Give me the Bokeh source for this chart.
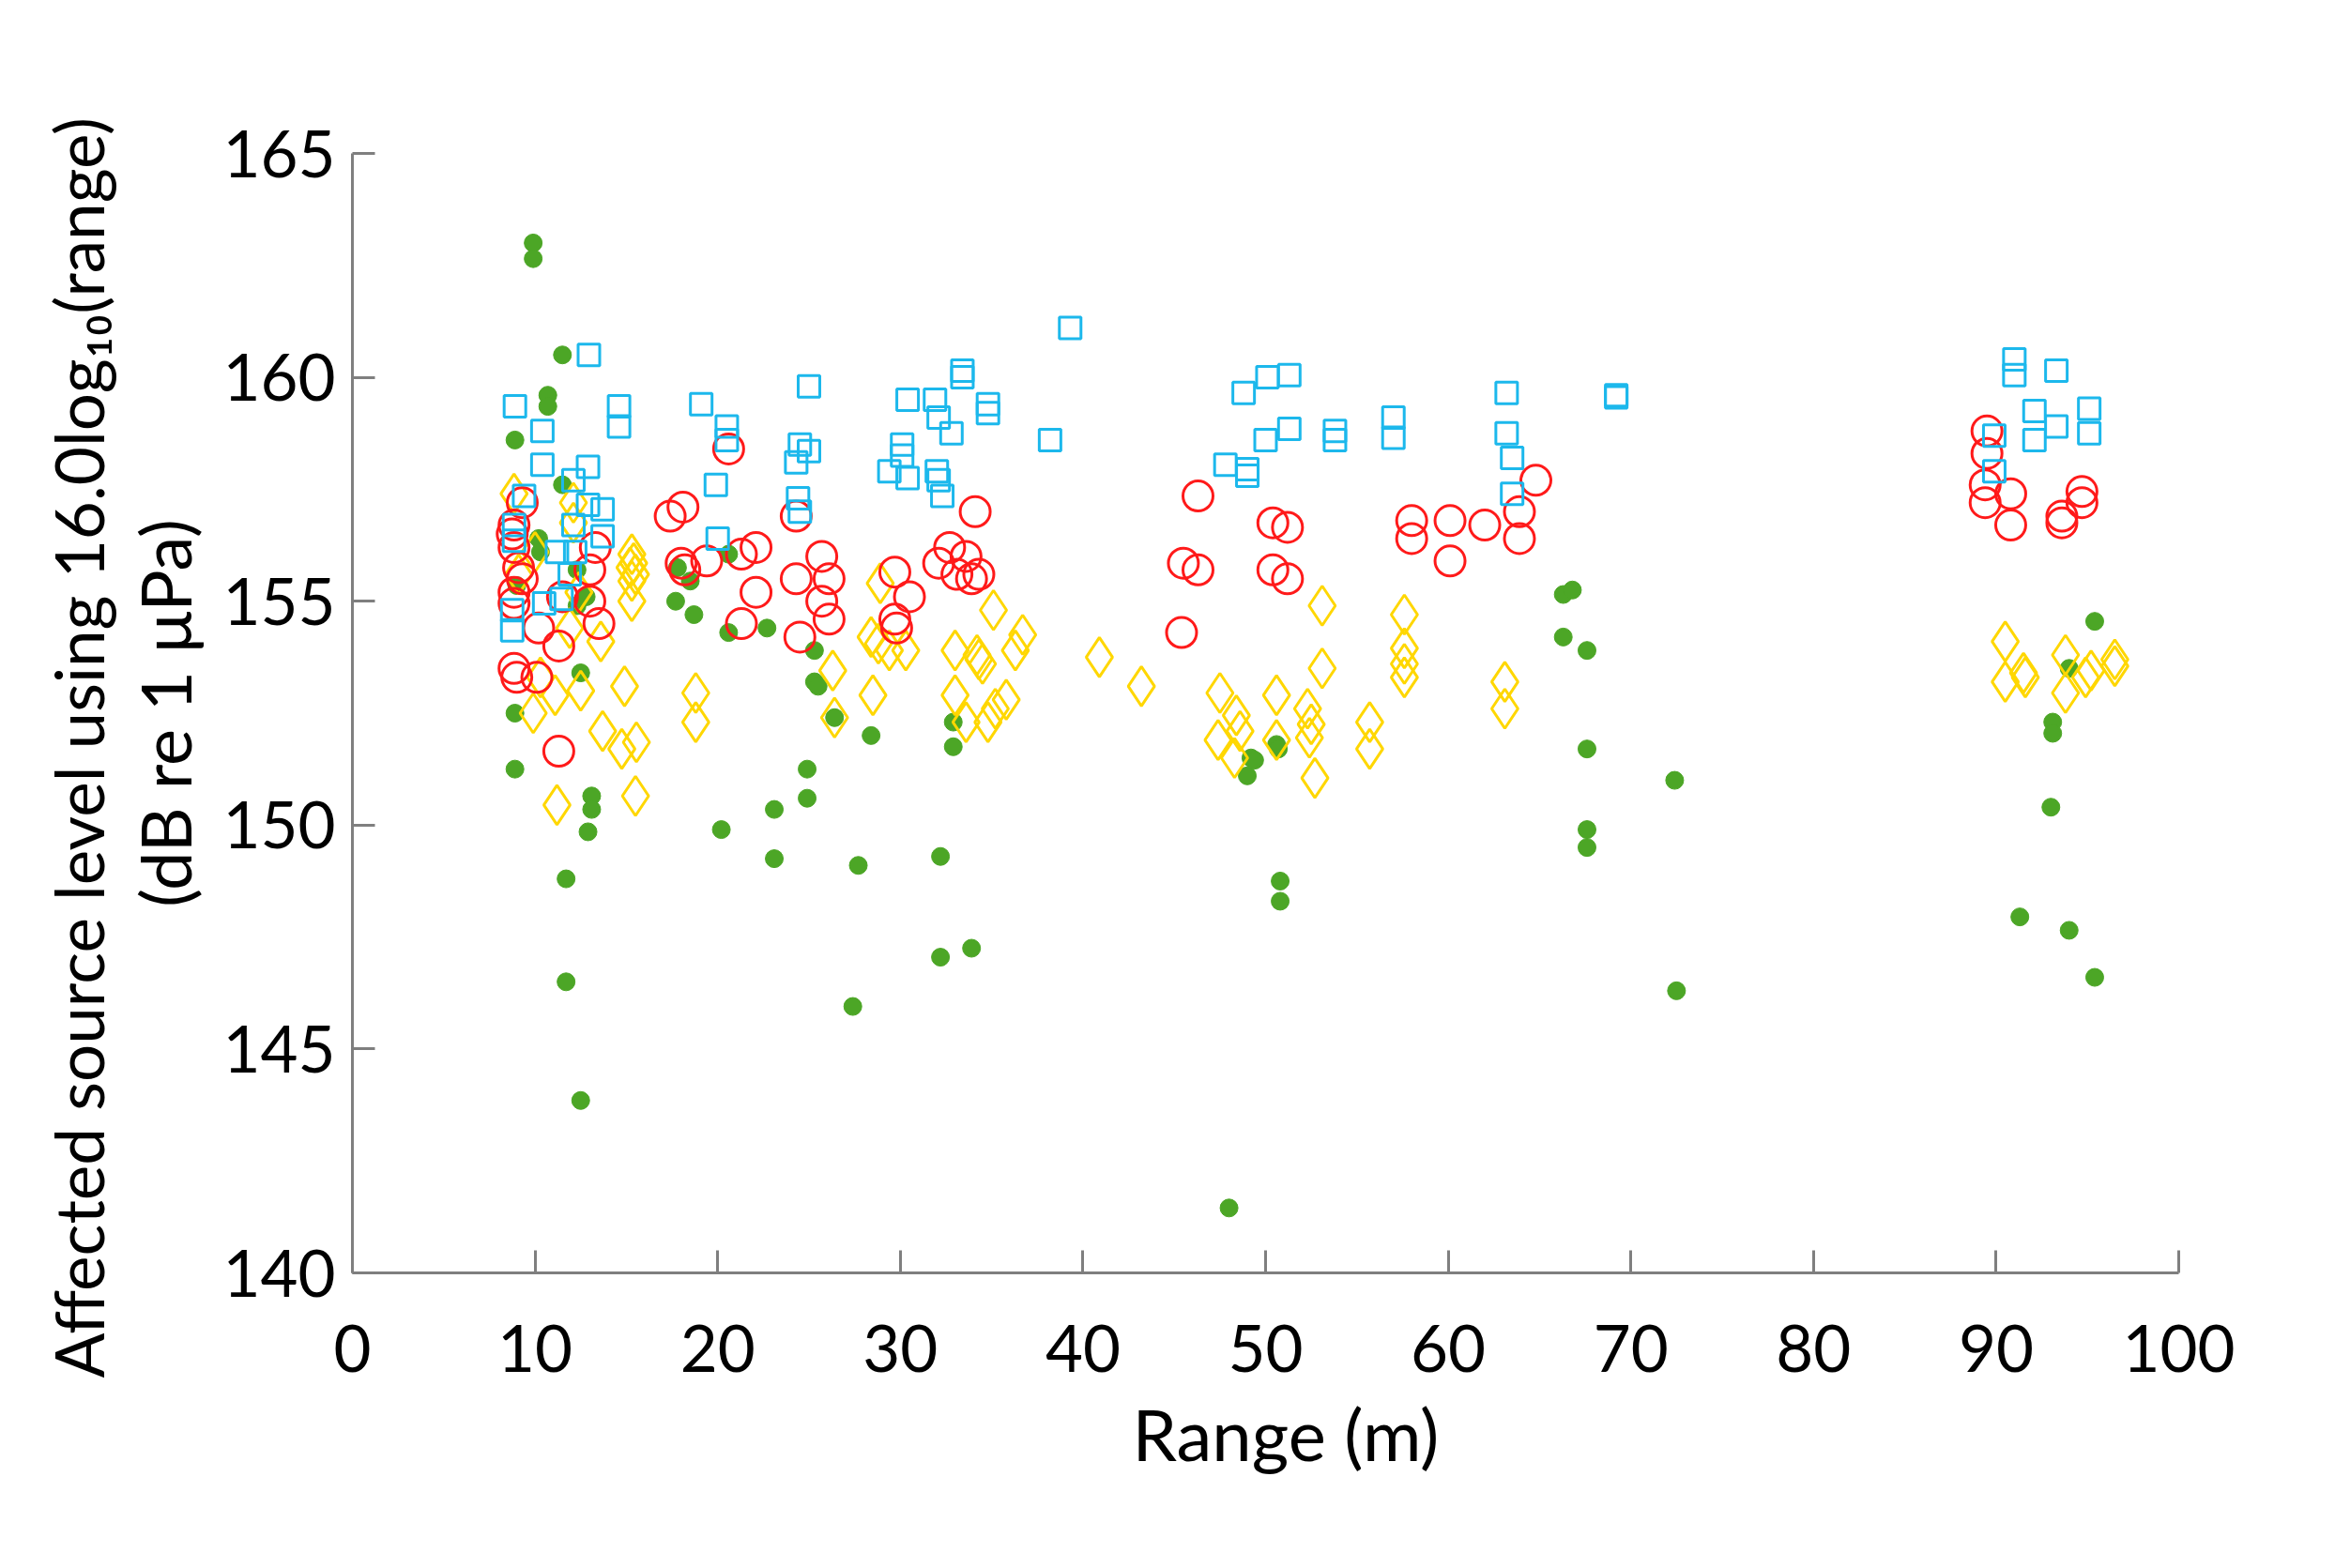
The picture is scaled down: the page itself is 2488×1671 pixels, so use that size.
from bokeh.plotting import figure
from bokeh.models import Range1d, FixedTicker, Title
from bokeh.embed import file_html
from bokeh.resources import INLINE

# ---- data (x = range in m, y = affected source level in dB) ----
x_ticks = [0, 10, 20, 30, 40, 50, 60, 70, 80, 90, 100]
y_ticks = [140, 145, 150, 155, 160, 165]

green_pts = [
    (9.9, 163.0), (9.9, 162.65), (8.9, 158.6), (11.5, 160.5), (10.7, 159.6), (10.7, 159.35),
    (11.5, 157.6), (10.2, 156.4), (10.3, 156.1), (12.3, 155.7), (9.0, 155.35), (12.8, 155.1),
    (12.3, 154.9), (8.9, 152.5), (8.9, 151.25), (12.5, 153.4), (13.1, 150.65), (13.1, 150.35),
    (12.9, 149.85), (11.7, 148.8), (11.7, 146.5), (12.5, 143.85), (17.7, 155.0), (17.8, 155.75),
    (18.5, 155.45), (18.7, 154.7), (20.6, 156.05), (20.6, 154.3), (20.2, 149.9), (22.7, 154.4),
    (23.1, 150.35), (23.1, 149.25), (25.3, 153.9), (25.3, 153.2), (25.5, 153.1), (24.9, 151.25),
    (24.9, 150.6), (26.4, 152.4), (28.4, 152.0), (27.7, 149.1), (27.4, 145.95), (32.9, 152.3),
    (32.9, 151.75), (32.2, 149.3), (32.2, 147.05), (33.9, 147.25), (49.0, 151.1), (49.2, 151.5),
    (49.4, 151.45), (50.6, 151.8), (50.7, 151.7), (50.8, 148.75), (50.8, 148.3), (48.0, 141.45),
    (66.3, 154.2), (66.3, 155.15), (66.8, 155.25), (67.6, 153.9), (67.6, 151.7), (67.6, 149.9),
    (67.6, 149.5), (72.4, 151.0), (72.5, 146.3), (91.3, 147.95), (93.1, 152.3), (93.1, 152.05),
    (93.0, 150.4), (94.0, 147.65), (94.0, 153.5), (95.4, 154.55), (95.4, 146.6),
]

blue_pts = [
    (12.95, 160.5), (8.9, 159.35), (14.6, 159.35), (14.6, 158.9), (10.4, 158.8), (10.4, 158.05),
    (12.9, 158.0), (12.1, 157.7), (9.4, 157.35), (12.9, 157.15), (13.7, 157.05), (12.1, 156.7),
    (13.7, 156.45), (8.85, 156.7), (8.85, 156.35), (11.2, 156.1), (11.9, 155.6), (12.2, 156.1),
    (10.5, 154.95), (11.45, 155.05), (8.75, 154.8), (8.75, 154.35),
    (19.1, 159.4), (20.5, 158.9), (20.5, 158.6), (19.9, 157.6), (20.0, 156.4),
    (25.0, 159.8), (24.5, 158.5), (25.0, 158.35), (24.3, 158.1), (24.4, 157.3), (24.5, 157.0),
    (30.4, 159.5), (30.1, 158.5), (30.1, 158.25), (29.4, 157.9), (30.4, 157.75), (31.9, 159.5),
    (32.1, 159.1), (32.0, 157.9), (32.1, 157.7), (32.3, 157.35), (32.8, 158.75), (33.4, 160.15),
    (33.4, 160.0), (34.8, 159.4), (34.8, 159.2), (39.3, 161.1), (38.2, 158.6),
    (47.8, 158.05), (48.8, 159.65), (49.0, 157.95), (49.0, 157.8), (50.0, 158.6), (50.1, 160.0),
    (51.3, 160.05), (51.3, 158.85), (53.8, 158.8), (53.8, 158.6), (57.0, 159.1), (57.0, 158.65),
    (63.2, 159.65), (63.2, 158.75), (63.5, 158.2), (63.5, 157.4), (69.2, 159.6), (69.2, 159.55),
    (91.0, 160.4), (91.0, 160.05), (89.9, 158.7), (89.9, 157.9), (92.1, 159.25), (92.1, 158.6),
    (93.3, 160.15), (93.3, 158.9), (95.1, 159.3), (95.1, 158.75),
]

red_pts = [
    (9.3, 157.2), (8.85, 156.7), (8.75, 156.5), (8.85, 156.2), (9.1, 155.75), (9.3, 155.5),
    (8.85, 155.2), (8.85, 154.95), (13.3, 156.2), (13.0, 155.7), (13.0, 155.0), (13.5, 154.5),
    (10.2, 154.4), (11.3, 154.0), (11.5, 155.1), (8.85, 153.5), (9.0, 153.3), (10.1, 153.3),
    (11.3, 151.65),
    (17.4, 156.9), (18.1, 157.1), (18.0, 155.85), (18.2, 155.7), (19.4, 155.9), (20.6, 158.4),
    (21.3, 156.05), (22.1, 156.2), (22.1, 155.2), (21.3, 154.5), (24.3, 156.9), (24.3, 155.5),
    (24.5, 154.2), (25.7, 156.0), (26.1, 155.5), (25.7, 155.0), (26.1, 154.6), (29.7, 155.65),
    (29.7, 154.6), (29.8, 154.4), (30.5, 155.1), (32.1, 155.85), (32.7, 156.2), (33.1, 155.6),
    (33.6, 156.0), (33.9, 155.5), (34.3, 155.6), (34.1, 157.0),
    (46.3, 157.35), (45.5, 155.85), (46.3, 155.7), (45.4, 154.3), (50.4, 156.75), (51.2, 156.65),
    (50.4, 155.7), (51.2, 155.5), (58.0, 156.8), (58.0, 156.4), (60.1, 156.8), (60.1, 155.9),
    (62.0, 156.7), (63.9, 157.0), (63.9, 156.4), (64.8, 157.7),
    (89.5, 158.8), (89.5, 158.3), (89.4, 157.6), (89.4, 157.2), (90.8, 157.4), (90.8, 156.7),
    (93.6, 156.9), (93.6, 156.75), (94.7, 157.45), (94.7, 157.2),
]

yellow_pts = [
    (8.85, 157.4), (10.0, 156.1), (12.1, 157.2), (12.1, 156.75), (9.1, 155.6), (15.3, 156.05),
    (15.4, 155.85), (15.2, 155.75), (15.5, 155.6), (15.3, 155.45), (15.3, 155.0), (12.4, 155.2),
    (13.6, 154.1), (11.9, 154.4), (10.3, 153.3), (11.1, 152.9), (9.9, 152.5), (12.5, 153.0),
    (14.9, 153.1), (13.7, 152.1), (14.75, 151.7), (15.55, 151.85), (11.2, 150.45), (15.5, 150.65),
    (18.8, 152.95), (18.8, 152.3), (26.3, 153.45), (26.4, 152.4), (28.9, 155.4), (28.4, 154.2),
    (28.8, 154.05), (29.4, 153.9), (30.3, 153.9), (28.5, 152.9), (33.0, 153.9), (33.0, 152.9),
    (33.6, 152.3), (34.2, 153.8), (34.5, 153.6), (34.3, 153.7), (35.1, 154.8), (34.8, 152.3),
    (35.2, 152.6), (35.8, 152.8), (36.3, 153.9), (36.7, 154.25), (40.9, 153.75), (43.2, 153.1),
    (47.5, 152.95), (47.4, 151.9), (48.4, 152.45), (48.6, 152.1), (48.3, 151.5), (50.6, 152.9),
    (50.6, 151.9), (52.3, 152.6), (52.5, 152.25), (52.4, 151.95), (52.7, 151.05), (53.1, 154.9),
    (53.1, 153.5), (55.7, 152.3), (55.7, 151.7), (57.6, 154.7), (57.6, 153.95), (57.6, 153.6),
    (57.6, 153.3), (63.1, 153.2), (63.1, 152.6), (90.5, 154.1), (90.5, 153.2), (91.5, 153.4),
    (91.6, 153.3), (93.8, 153.8), (93.8, 152.95), (94.9, 153.3), (95.2, 153.45), (96.5, 153.7),
    (96.5, 153.55),
]

FONT = "Lato"
AXIS_GREY = "#7f7f7f"

p = figure(width=2472, height=1655,
           x_range=Range1d(0, 100), y_range=Range1d(140, 165),
           output_backend="svg", toolbar_location=None,
           min_border_left=375, min_border_right=151,
           min_border_top=163, min_border_bottom=299)
p.outline_line_color = None
p.grid.visible = False
p.background_fill_color = "white"

for ax in (p.xaxis[0], p.yaxis[0]):
    ax.axis_line_color = AXIS_GREY
    ax.axis_line_width = 3
    ax.major_tick_line_color = AXIS_GREY
    ax.major_tick_line_width = 3
    ax.major_tick_in = 24
    ax.major_tick_out = 0
    ax.minor_tick_line_color = None
    ax.major_label_text_font = FONT
    ax.major_label_text_font_size = "69px"
    ax.major_label_text_color = "black"
    ax.axis_label_text_font = FONT
    ax.axis_label_text_font_size = "74px"
    ax.axis_label_text_font_style = "normal"
    ax.axis_label_text_color = "black"

p.xaxis.ticker = FixedTicker(ticks=x_ticks)
p.yaxis.ticker = FixedTicker(ticks=y_ticks)
p.xaxis.major_label_standoff = 55
p.yaxis.major_label_standoff = 18
p.yaxis.axis_label = "(dB re 1 \u03bcPa)"
p.yaxis.axis_label_standoff = 14

ylab = Title(text="Affected source level using 16.0log\u2081\u2080(range)", align="left", offset=-112,
             text_font=FONT, text_font_size="71px", text_font_style="normal",
             text_color="black", standoff=6)
p.add_layout(ylab, "left")

xlab = Title(text="Range (m)", align="left", offset=831,
             text_font=FONT, text_font_size="76px", text_font_style="normal",
             text_color="black", standoff=30)
p.add_layout(xlab, "below")

def unzip(pts):
    return [a for a, b in pts], [b for a, b in pts]

gx, gy = unzip(green_pts)
bx, by = unzip(blue_pts)
rx, ry = unzip(red_pts)
yx, yy = unzip(yellow_pts)

p.scatter(gx, gy, marker="circle", size=19, fill_color="#4CA626", line_color="#4CA626", line_width=1)
p.scatter(yx, yy, marker="diamond", size=42, fill_color=None, line_color="#FFD700", line_width=3)
p.scatter(rx, ry, marker="circle", size=32, fill_color=None, line_color="#FF1A1A", line_width=3)
p.scatter(bx, by, marker="square", size=23, fill_color=None, line_color="#1CB8EC", line_width=3)

open("out.html", "w").write(file_html(p, INLINE))
